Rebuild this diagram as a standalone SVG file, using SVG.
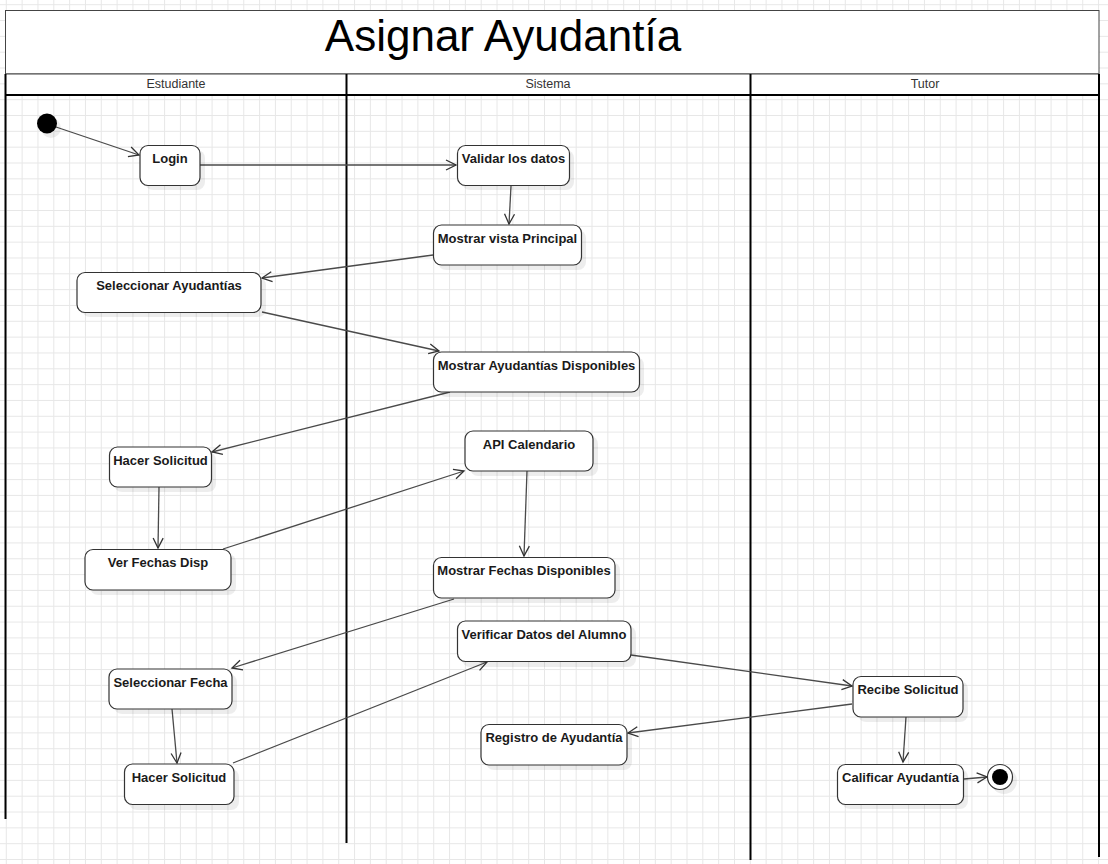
<svg xmlns="http://www.w3.org/2000/svg" width="1108" height="864" viewBox="0 0 1108 864">
<style>
.node rect.b{fill:#fff;stroke:#333;stroke-width:1.2}
.node rect.s{fill:#000;opacity:0.07}
.node text{font-family:"Liberation Sans",Arial,sans-serif;font-size:13px;font-weight:bold;fill:#1a1a1a;text-anchor:middle}
.lane text{font-family:"Liberation Sans",Arial,sans-serif;font-size:12.5px;fill:#333;text-anchor:middle}
.conn line{stroke:#4a4a4a;stroke-width:1.3;fill:none;marker-end:url(#arr)}
.lline{stroke:#000;stroke-width:2}
</style>
<defs>
<pattern id="grid" patternUnits="userSpaceOnUse" x="5.8" y="4.2" width="15.83" height="15.83">
<path d="M0,0.5 H15.83 M0.5,0 V15.83" stroke="#e7e7e7" stroke-width="1" fill="none"/>
</pattern>
<marker id="arr" markerUnits="userSpaceOnUse" markerWidth="14" markerHeight="14" refX="11" refY="6" orient="auto">
<path d="M1,1 L11,6 L1,11" fill="none" stroke="#333" stroke-width="1.3"/>
</marker>
</defs>
<rect x="0" y="0" width="1108" height="864" fill="#fff"/>
<rect x="0" y="0" width="1108" height="864" fill="url(#grid)"/>

<g id="frame">
<rect x="5.5" y="10.5" width="1093.5" height="63.5" fill="#fff" stroke="#444" stroke-width="1"/>
<text x="503" y="51" font-family="'Liberation Sans',Arial,sans-serif" font-size="44" fill="#000" text-anchor="middle">Asignar Ayudantía</text>
<rect x="5.5" y="74" width="1093.5" height="21" fill="#fff" stroke="none"/>
<line x1="5.5" y1="74" x2="1099" y2="74" stroke="#444" stroke-width="1"/>
<line x1="5" y1="95" x2="1100" y2="95" class="lline"/>
<line x1="5.5" y1="74" x2="5.5" y2="819" class="lline"/>
<line x1="346.5" y1="74" x2="346.5" y2="843" class="lline"/>
<line x1="750.5" y1="74" x2="750.5" y2="860" class="lline"/>
<line x1="1099" y1="74" x2="1099" y2="857" class="lline"/>
</g>
<g id="lanes" class="lane">
<text x="176" y="87.5">Estudiante</text>
<text x="548" y="87.5">Sistema</text>
<text x="925" y="87.5">Tutor</text>
</g>

<g id="connectors" class="conn">
<line x1="56" y1="127" x2="139" y2="155"/>
<line x1="200" y1="165" x2="456" y2="165"/>
<line x1="511" y1="186" x2="509" y2="224"/>
<line x1="433" y1="255" x2="262" y2="278"/>
<line x1="262" y1="312" x2="439" y2="351"/>
<line x1="450" y1="392" x2="212" y2="452"/>
<line x1="159" y1="487" x2="158" y2="548"/>
<line x1="223" y1="549" x2="464" y2="471"/>
<line x1="527" y1="471" x2="524" y2="556"/>
<line x1="454" y1="599" x2="232" y2="668"/>
<line x1="172" y1="709" x2="177" y2="763"/>
<line x1="233" y1="763" x2="487" y2="662"/>
<line x1="631" y1="655" x2="852" y2="686"/>
<line x1="852" y1="704" x2="628" y2="733"/>
<line x1="906" y1="717" x2="903" y2="762"/>
<line x1="964" y1="779" x2="987" y2="777"/>
</g>

<g id="start">
<circle cx="51" cy="128" r="10" fill="#000" opacity="0.07"/>
<circle cx="47" cy="123.5" r="10" fill="#000"/>
</g>
<g id="end">
<circle cx="1004" cy="781" r="13" fill="#000" opacity="0.07"/>
<circle cx="1000" cy="777" r="12.5" fill="#fff" stroke="#333" stroke-width="1.2"/>
<circle cx="1000" cy="777" r="8" fill="#000"/>
</g>

<g id="n-login" class="node"><rect class="s" x="145" y="150" width="60" height="40" rx="8"/><rect class="b" x="140" y="145.5" width="60" height="40" rx="8"/><text x="170" y="162.5">Login</text></g>
<g id="n-validar" class="node"><rect class="s" x="462" y="150" width="112" height="40" rx="8"/><rect class="b" x="457.5" y="145.5" width="112" height="40" rx="8"/><text x="513.5" y="162.5">Validar los datos</text></g>
<g id="n-vista" class="node"><rect class="s" x="438" y="230" width="148" height="40" rx="8"/><rect class="b" x="433.5" y="225" width="148" height="40" rx="8"/><text x="507.5" y="242.5">Mostrar vista Principal</text></g>
<g id="n-selayud" class="node"><rect class="s" x="82" y="277" width="184" height="40" rx="8"/><rect class="b" x="77" y="272.5" width="184" height="40" rx="8"/><text x="169" y="289.5">Seleccionar Ayudantías</text></g>
<g id="n-ayudisp" class="node"><rect class="s" x="438" y="357" width="206" height="40" rx="8"/><rect class="b" x="433.5" y="352" width="206" height="40" rx="8"/><text x="536.5" y="369.5">Mostrar Ayudantías Disponibles</text></g>
<g id="n-api" class="node"><rect class="s" x="470" y="436" width="128" height="40" rx="8"/><rect class="b" x="465" y="431" width="128" height="40" rx="8"/><text x="529" y="448.5">API Calendario</text></g>
<g id="n-hacer1" class="node"><rect class="s" x="114" y="452" width="102" height="40" rx="8"/><rect class="b" x="109.5" y="447" width="102" height="40" rx="8"/><text x="160.5" y="464.5">Hacer Solicitud</text></g>
<g id="n-verfechas" class="node"><rect class="s" x="90" y="554" width="146" height="41" rx="8"/><rect class="b" x="85" y="549.5" width="146" height="40.5" rx="8"/><text x="158" y="566.5">Ver Fechas Disp</text></g>
<g id="n-fechasdisp" class="node"><rect class="s" x="438" y="562" width="182" height="41" rx="8"/><rect class="b" x="433.5" y="557.5" width="181.5" height="40.5" rx="8"/><text x="524" y="574.5">Mostrar Fechas Disponibles</text></g>
<g id="n-verificar" class="node"><rect class="s" x="462" y="626" width="174" height="41" rx="8"/><rect class="b" x="457.5" y="621" width="173.5" height="40.5" rx="8"/><text x="544" y="638.5">Verificar Datos del Alumno</text></g>
<g id="n-selfecha" class="node"><rect class="s" x="114" y="674" width="123" height="40" rx="8"/><rect class="b" x="109" y="669" width="123" height="40" rx="8"/><text x="170.5" y="686.5">Seleccionar Fecha</text></g>
<g id="n-hacer2" class="node"><rect class="s" x="129" y="769" width="110" height="41" rx="8"/><rect class="b" x="124.5" y="764" width="109.5" height="40.5" rx="8"/><text x="179" y="781.5">Hacer Solicitud</text></g>
<g id="n-registro" class="node"><rect class="s" x="486" y="729" width="146" height="41" rx="8"/><rect class="b" x="481" y="724.5" width="146" height="40.5" rx="8"/><text x="554" y="741.5">Registro de Ayudantía</text></g>
<g id="n-recibe" class="node"><rect class="s" x="858" y="681" width="110" height="41" rx="8"/><rect class="b" x="853" y="676.5" width="110" height="40.5" rx="8"/><text x="908" y="693.5">Recibe Solicitud</text></g>
<g id="n-calificar" class="node"><rect class="s" x="842" y="769" width="126" height="40" rx="8"/><rect class="b" x="837.5" y="764.5" width="126" height="40" rx="8"/><text x="900.5" y="781.5">Calificar Ayudantía</text></g>
</svg>
